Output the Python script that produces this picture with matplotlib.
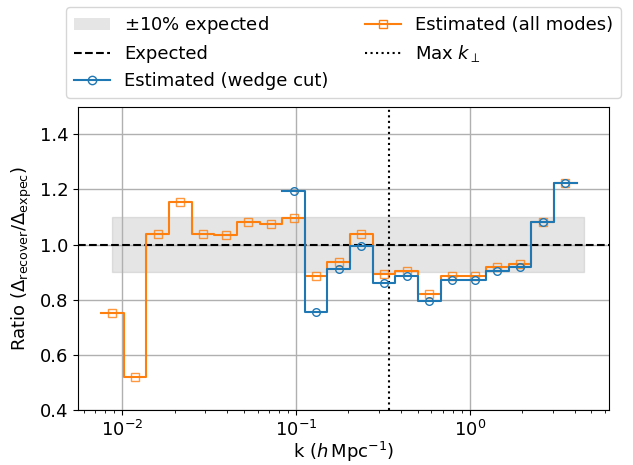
import matplotlib
matplotlib.use("Agg")
import matplotlib.pyplot as plt
import numpy as np
from matplotlib.lines import Line2D
from matplotlib.patches import Patch

# bin centres (h/Mpc)
k_all = [0.00876, 0.01182, 0.01596, 0.02154, 0.02908, 0.03925, 0.05299,
         0.07154, 0.09656, 0.1303, 0.1759, 0.2375, 0.3206, 0.4328,
         0.5842, 0.7886, 1.065, 1.437, 1.940, 2.619, 3.535]
ratio_all = [0.752, 0.521, 1.040, 1.154, 1.040, 1.035, 1.083, 1.075, 1.097,
             0.885, 0.936, 1.040, 0.893, 0.905, 0.821, 0.885, 0.887, 0.917,
             0.931, 1.081, 1.223]

k_wedge = k_all[8:]
ratio_wedge = [1.193, 0.757, 0.913, 0.994, 0.861, 0.885, 0.794, 0.870,
               0.873, 0.905, 0.917, 1.081, 1.223]

band_k = [0.00876, 4.55]
max_kperp = 0.342


def bin_edges(centres):
    c = np.log10(centres)
    mids = 0.5 * (c[1:] + c[:-1])
    half = 0.5 * (c[1] - c[0])
    return 10 ** np.concatenate([[c[0] - half], mids, [c[-1] + half]])


plt.rcParams["font.size"] = 13

fig = plt.figure(figsize=(6.33, 4.65), dpi=100)
ax = fig.add_axes([0.1237, 0.1183, 0.838, 0.6522])

ax.fill_between(band_k, 0.9, 1.1, color="gray", alpha=0.2)
ax.axhline(1.0, color="k", ls="--", lw=1.5)

blue, orange = "tab:blue", "tab:orange"

e = bin_edges(k_all)
ax.step(e, np.append(ratio_all, ratio_all[-1]), where="post", color=orange, lw=1.5, zorder=3)
ax.plot(k_all, ratio_all, ls="none", marker="s", ms=5.5, mfc="none", mec=orange, alpha=0.8, zorder=3)

e = bin_edges(k_wedge)
ax.step(e, np.append(ratio_wedge, ratio_wedge[-1]), where="post", color=blue, lw=1.5, zorder=4)
ax.plot(k_wedge, ratio_wedge, ls="none", marker="o", ms=5.5, mfc="none", mec=blue, zorder=4)

ax.axvline(max_kperp, color="k", ls=":", lw=1.5)

ax.set_xscale("log")
ax.set_xlim(0.00558, 6.29)
ax.set_ylim(0.4, 1.5)
ax.set_yticks([0.4, 0.6, 0.8, 1.0, 1.2, 1.4])
ax.grid(True, which="major", color="#b0b0b0", lw=1)
ax.set_xlabel(r"k ($h\,$Mpc$^{-1}$)", labelpad=0)
ax.set_ylabel(r"Ratio ($\Delta_{\rm recover}/\Delta_{\rm expec}$)")

handles = [
    Patch(facecolor="gray", alpha=0.2),
    Line2D([], [], color="k", ls="--", lw=1.5),
    Line2D([], [], color=blue, marker="o", mfc="none", ms=6, lw=1.5),
    Line2D([], [], color=orange, marker="s", mfc="none", ms=6, lw=1.5),
    Line2D([], [], color="k", ls=":", lw=1.5),
]
labels = [r"$\pm$10% expected", "Expected", "Estimated (wedge cut)",
          "Estimated (all modes)", r"Max $k_\perp$"]
ax.legend(handles, labels, ncol=2, loc="lower center", bbox_to_anchor=(0.5, 1.0),
          fontsize=13)

fig.savefig("out.png", dpi=100)
